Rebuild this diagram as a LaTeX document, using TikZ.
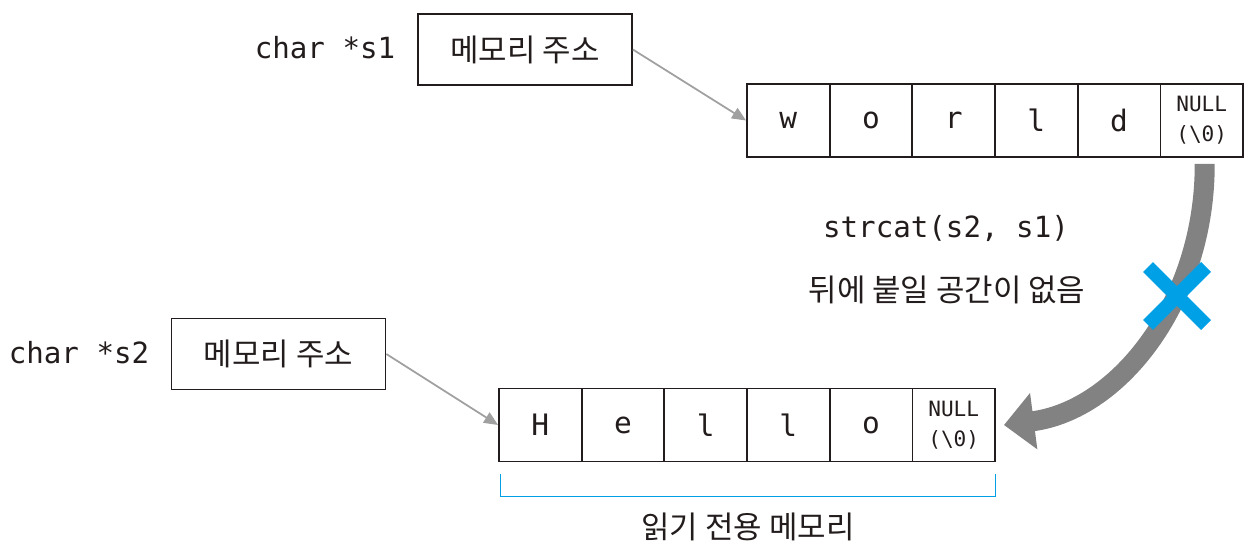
\documentclass[tikz,border=0pt]{standalone}
\usepackage{fontspec}
\setmonofont{DejaVu Sans Mono}
\newfontfamily\kr{Noto Sans CJK KR}
\usepackage{tikz}
\usetikzlibrary{arrows.meta,positioning}
\definecolor{inkdark}{RGB}{35,28,28}
\definecolor{ptrgray}{RGB}{160,160,160}
\definecolor{bendgray}{RGB}{130,130,130}
\definecolor{xblue}{RGB}{0,160,230}

\begin{document}
\begin{tikzpicture}[
  x=0.02cm, y=-0.02cm,
  cell/.style={draw=inkdark, line width=1pt, minimum width=1.654cm, minimum height=1.46cm,
    inner sep=0pt, text=inkdark, font=\ttfamily\fontsize{16.8}{20}\selectfont},
  nullcell/.style={cell, align=center, font=\ttfamily\fontsize{12}{17}\selectfont},
  addr/.style={draw=inkdark, line width=1pt, minimum width=4.28cm, minimum height=1.42cm,
    inner sep=0pt, text=inkdark, font=\kr\fontsize{17.6}{20}\selectfont},
  code/.style={text=inkdark, font=\ttfamily\fontsize{16.6}{20}\selectfont},
  note/.style={text=inkdark, font=\kr\fontsize{17.6}{20}\selectfont},
  ptr/.style={draw=ptrgray, line width=1pt, -{Triangle[length=0.28cm, width=0.24cm]}, fill=ptrgray},
  bendarrow/.style={draw=bendgray, line width=0.4cm, -{Triangle[length=0.6cm, width=1.1cm]}},
  bracket/.style={draw=xblue, line width=0.6pt},
  cross/.style={draw=xblue, line width=0.28cm},
  node distance=1.654cm
  ]
  \useasboundingbox (0,0) rectangle (1258,555);

  % Pointer s1
  \node[code] (p1) at (325,48) {char *s1};
  \node[addr] (addr1) at (525,49.5) {메모리 주소};

  % String "world"
  \node[cell] (w1) at (788.3,120.5) {w};
  \node[cell, right of=w1] (w2) {o};
  \node[cell, right of=w2] (w3) {r};
  \node[cell, right of=w3] (w4) {l};
  \node[cell, right of=w4] (w5) {d};
  \node[nullcell, right of=w5] (w6) {NULL\\(\textbackslash 0)};

  % Pointer s2
  \node[code] (p2) at (79,353) {char *s2};
  \node[addr] (addr2) at (278.5,354) {메모리 주소};

  % String "Hello"
  \node[cell] (h1) at (540.3,425) {H};
  \node[cell, right of=h1] (h2) {e};
  \node[cell, right of=h2] (h3) {l};
  \node[cell, right of=h3] (h4) {l};
  \node[cell, right of=h4] (h5) {o};
  \node[nullcell, right of=h5] (h6) {NULL\\(\textbackslash 0)};

  % Labels
  \node[code] (call) at (946,228) {strcat(s2, s1)};
  \node[note] (nospace) at (947,290) {뒤에 붙일 공간이 없음};
  \node[note] (rom) at (748,527) {읽기 전용 메모리};

  % Connections
  \draw[ptr] (addr1.east) -- (w1.west);
  \draw[ptr] (addr2.east) -- (h1.west);
  \draw[bendarrow] ([xshift=0.06cm,yshift=-0.12cm]w6.south)
    .. controls (1205,300) and (1120,410) .. ([xshift=0.16cm]h6.east);

  % Read-only bracket
  \coordinate (brL) at ([xshift=0.04cm,yshift=-0.24cm]h1.south west);
  \draw[bracket] (brL) -- ++(0,22) -| ([yshift=-0.24cm]h6.south east);

  % Blocked mark
  \coordinate (xmark) at (1177,296);
  \draw[cross] (xmark) ++(-29,-29) -- ++(58,58)
               (xmark) ++(-29,29) -- ++(58,-58);
\end{tikzpicture}
\end{document}
